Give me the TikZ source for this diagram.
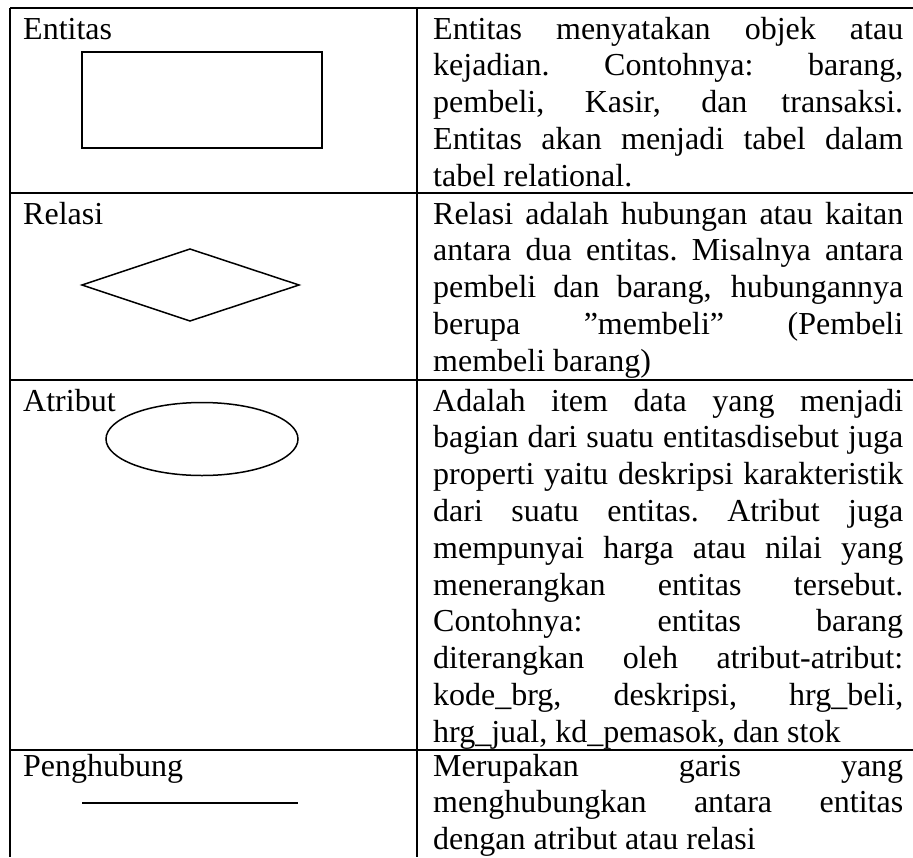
\documentclass[tikz,border=0pt]{standalone}
\usepackage{fontspec}
\setmainfont{Liberation Serif}

% one justified line of a description cell: equal stretch in every gap
\newcommand{\fitline}[1]{\hbox to 470pt{\spaceskip=8pt plus 1fil\xspaceskip=8pt plus 1fil #1}}
% last line of a cell: natural spacing
\newcommand{\lastline}[1]{\hbox{\spaceskip=8pt\xspaceskip=8pt #1}}

\tikzset{
  rule/.style={line width=2.4pt},
  symbol/.style={line width=1.5pt},
  label/.style={anchor=base west, inner sep=0pt, font=\fontsize{32}{36.8}\selectfont},
  desc/.style={anchor=base west, inner sep=0pt, text width=470pt,
    font=\fontsize{32}{36.8}\selectfont},
}

\begin{document}
\begin{tikzpicture}[x=1pt,y=-1pt]
\useasboundingbox (0,0) rectangle (913,857);

% table grid
\draw[rule] (10,8) -- (913,8);
\draw[rule] (10,8) -- (10,857);
\draw[rule] (417,8) -- (417,857);
\draw[rule] (10,193) -- (913,193);
\draw[rule] (10,380) -- (913,380);
\draw[rule] (10,750) -- (913,750);

% left column: names and symbols
\node[label] (entitas) at (23,39) {Entitas};
\draw[symbol] (82,52) rectangle (322,148);

\node[label] (relasi) at (23,224) {Relasi};
\draw[symbol] (82,285) -- (190,249) -- (299,285) -- (190,321) -- cycle;

\node[label] (atribut) at (23,411) {Atribut};
\draw[symbol] (202,439) ellipse [x radius=96, y radius=36.5];

\node[label] (penghubung) at (23,776) {Penghubung};
\draw[line width=2pt] (82,803) -- (298,803);

% right column: descriptions
\node[desc] (d-entitas) at (433,39) {%
\fitline{Entitas menyatakan objek atau}
\fitline{kejadian. Contohnya: barang,}
\fitline{pembeli, Kasir, dan transaksi.}
\fitline{Entitas akan menjadi tabel dalam}
\lastline{tabel relational.}};

\node[desc] (d-relasi) at (433,224) {%
\fitline{Relasi adalah hubungan atau kaitan}
\fitline{antara dua entitas. Misalnya antara}
\fitline{pembeli dan barang, hubungannya}
\fitline{berupa ”membeli” (Pembeli}
\lastline{membeli barang)}};

\node[desc] (d-atribut) at (433,411) {%
\fitline{Adalah item data yang menjadi}
\fitline{bagian dari suatu entitasdisebut juga}
\fitline{properti yaitu deskripsi karakteristik}
\fitline{dari suatu entitas. Atribut juga}
\fitline{mempunyai harga atau nilai yang}
\fitline{menerangkan entitas tersebut.}
\fitline{Contohnya: entitas barang}
\fitline{diterangkan oleh atribut-atribut:}
\fitline{kode\_brg, deskripsi, hrg\_beli,}
\lastline{hrg\_jual, kd\_pemasok, dan stok}};

\node[desc] (d-penghubung) at (433,776) {%
\fitline{Merupakan garis yang}
\fitline{menghubungkan antara entitas}
\lastline{dengan atribut atau relasi}};
\end{tikzpicture}
\end{document}
